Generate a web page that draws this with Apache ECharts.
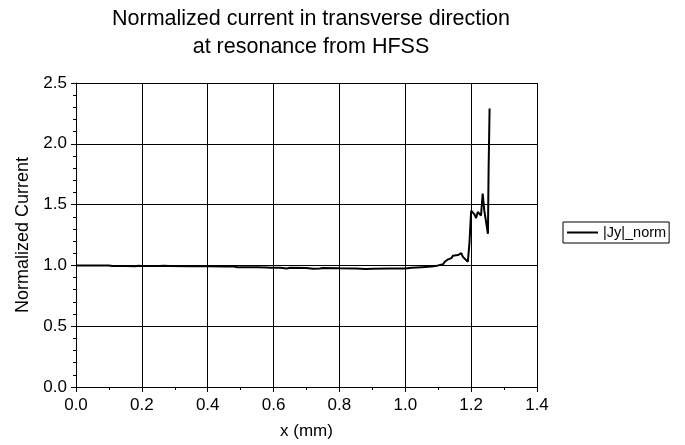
<!DOCTYPE html>
<html>
<head>
<meta charset="utf-8">
<script src="https://cdn.jsdelivr.net/npm/echarts@6/dist/echarts.min.js"></script>
<style>
html,body{margin:0;padding:0;background:#fff;}
#chart{width:685px;height:445px;}
</style>
</head>
<body>
<div id="chart"></div>
<script>
// Data
var xValues = [0, 0.05, 0.1, 0.11, 0.15, 0.18, 0.19, 0.2, 0.25, 0.27, 0.28, 0.35, 0.4, 0.45, 0.48, 0.49, 0.55, 0.58, 0.59, 0.62, 0.64, 0.65, 0.7, 0.72, 0.74, 0.75, 0.8, 0.85, 0.88, 0.9, 0.95, 1.0, 1.02, 1.05, 1.08, 1.1, 1.115, 1.12, 1.13, 1.14, 1.145, 1.16, 1.17, 1.175, 1.19, 1.195, 1.2, 1.21, 1.215, 1.22, 1.23, 1.235, 1.24, 1.251, 1.253, 1.256];
var jyNorm  = [1.0, 1.0, 1.0, 0.995, 0.995, 0.993, 0.997, 0.995, 0.995, 0.997, 0.995, 0.993, 0.993, 0.99, 0.99, 0.984, 0.984, 0.982, 0.98, 0.98, 0.975, 0.98, 0.978, 0.972, 0.975, 0.978, 0.976, 0.975, 0.97, 0.972, 0.975, 0.975, 0.98, 0.985, 0.99, 1.0, 1.01, 1.03, 1.05, 1.06, 1.08, 1.085, 1.1, 1.07, 1.03, 1.19, 1.45, 1.42, 1.39, 1.44, 1.41, 1.59, 1.45, 1.26, 1.78, 2.29];
var titleLines = ['Normalized current in transverse direction', 'at resonance from HFSS'];
var seriesName = '|Jy|_norm';
var xAxisName = 'x (mm)';
var yAxisName = 'Normalized Current';

var points = xValues.map(function (x, i) { return [x, jyNorm[i]]; });
var FONT = 'Liberation Sans, Arial, sans-serif';

var chart = echarts.init(document.getElementById('chart'));
chart.setOption({
  backgroundColor: '#fff',
  animation: false,
  title: {
    text: titleLines.join('\n'),
    left: 306,
    top: 0,
    textAlign: 'center',
    textStyle: { fontFamily: FONT, fontSize: 21.5, fontWeight: 'normal', color: '#000', lineHeight: 28 }
  },
  legend: {
    left: 563,
    top: 222,
    orient: 'vertical',
    padding: [3, 3, 3, 4],
    borderColor: '#000',
    borderWidth: 1,
    icon: 'rect',
    itemWidth: 31,
    itemHeight: 2,
    textStyle: { fontFamily: FONT, fontSize: 14.5, color: '#000' },
    data: [seriesName]
  },
  grid: { left: 76, right: 148, top: 83, bottom: 56, containLabel: false },
  xAxis: {
    type: 'value',
    min: 0, max: 1.4, interval: 0.2,
    name: xAxisName,
    nameLocation: 'middle',
    nameGap: 36,
    nameTextStyle: { fontFamily: FONT, fontSize: 17, color: '#000' },
    axisLine: { show: true, lineStyle: { color: '#000', width: 1 } },
    axisTick: { show: true, inside: false, length: 5, lineStyle: { color: '#000' } },
    minorTick: { show: true, splitNumber: 2, length: 3, lineStyle: { color: '#000' } },
    axisLabel: { fontFamily: FONT, fontSize: 17, color: '#000', margin: 10,
      formatter: function (v) { return v.toFixed(1); } },
    splitLine: { show: true, lineStyle: { color: '#000', width: 1 } }
  },
  yAxis: {
    type: 'value',
    min: 0, max: 2.5, interval: 0.5,
    name: yAxisName,
    nameLocation: 'middle',
    nameGap: 44,
    nameTextStyle: { fontFamily: FONT, fontSize: 18, color: '#000' },
    axisLine: { show: true, lineStyle: { color: '#000', width: 1 } },
    axisTick: { show: true, inside: false, length: 5, lineStyle: { color: '#000' } },
    minorTick: { show: true, splitNumber: 5, length: 3, lineStyle: { color: '#000' } },
    axisLabel: { fontFamily: FONT, fontSize: 17, color: '#000', margin: 9,
      formatter: function (v) { return v.toFixed(1); } },
    splitLine: { show: true, lineStyle: { color: '#000', width: 1 } }
  },
  series: [{
    name: seriesName,
    type: 'line',
    data: points,
    showSymbol: false,
    symbol: 'none',
    lineStyle: { color: '#000', width: 2 },
    itemStyle: { color: '#000' }
  }]
});
</script>
</body>
</html>
